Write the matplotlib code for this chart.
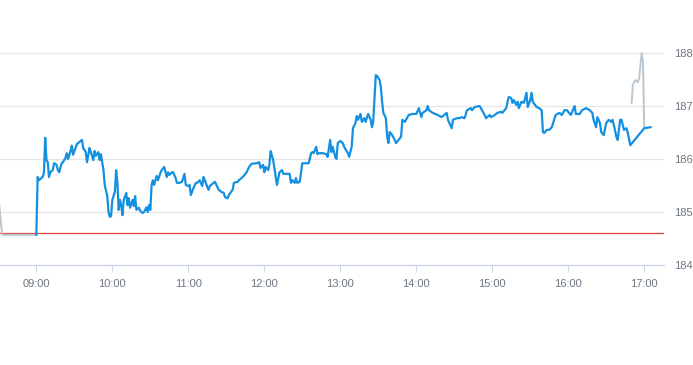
import matplotlib
matplotlib.use("Agg")
from matplotlib import pyplot as plt

# intraday prices (regular session)
times = [
    "09:00", "09:01", "09:02", "09:04", "09:05", "09:06", "09:07", "09:08", "09:09", "09:10",
    "09:11", "09:13", "09:14", "09:16", "09:17", "09:18", "09:20", "09:21", "09:23", "09:24",
    "09:25", "09:27", "09:28", "09:29", "09:31", "09:32", "09:34", "09:36", "09:37", "09:39",
    "09:40", "09:42", "09:43", "09:45", "09:46", "09:47", "09:49", "09:50", "09:51", "09:53",
    "09:54", "09:56", "09:57", "09:58", "09:59", "10:00", "10:02", "10:03", "10:04", "10:05",
    "10:06", "10:07", "10:08", "10:09", "10:11", "10:12", "10:13", "10:14", "10:16", "10:17",
    "10:18", "10:19", "10:21", "10:22", "10:24", "10:25", "10:27", "10:28", "10:29", "10:30",
    "10:31", "10:32", "10:33", "10:35", "10:36", "10:38", "10:39", "10:41", "10:43", "10:44",
    "10:45", "10:47", "10:48", "10:50", "10:51", "10:53", "10:55", "10:57", "10:58", "11:00",
    "11:01", "11:02", "11:04", "11:06", "11:07", "11:09", "11:11", "11:12", "11:13", "11:15",
    "11:16", "11:17", "11:19", "11:21", "11:23", "11:24", "11:26", "11:28", "11:29", "11:31",
    "11:32", "11:35", "11:36", "11:39", "11:40", "11:43", "11:46", "11:48", "11:50", "11:54",
    "11:56", "11:57", "11:59", "12:00", "12:01", "12:03", "12:04", "12:05", "12:07", "12:09",
    "12:10", "12:12", "12:14", "12:15", "12:17", "12:20", "12:21", "12:22", "12:24", "12:25",
    "12:26", "12:28", "12:30", "12:34", "12:35", "12:37", "12:38", "12:39", "12:41", "12:42",
    "12:43", "12:46", "12:49", "12:50", "12:52", "12:53", "12:54", "12:56", "12:57", "12:58",
    "13:00", "13:02", "13:03", "13:06", "13:07", "13:09", "13:10", "13:12", "13:13", "13:14",
    "13:16", "13:17", "13:19", "13:20", "13:22", "13:24", "13:25", "13:26", "13:28", "13:29",
    "13:31", "13:32", "13:33", "13:34", "13:36", "13:37", "13:38", "13:39", "13:41", "13:43",
    "13:44", "13:46", "13:48", "13:49", "13:51", "13:54", "13:57", "14:00", "14:02", "14:04",
    "14:05", "14:08", "14:09", "14:10", "14:13", "14:17", "14:20", "14:24", "14:25", "14:28",
    "14:29", "14:32", "14:34", "14:36", "14:38", "14:39", "14:40", "14:43", "14:44", "14:46",
    "14:50", "14:51", "14:54", "14:55", "14:58", "14:59", "15:02", "15:04", "15:07", "15:08",
    "15:11", "15:13", "15:15", "15:16", "15:17", "15:19", "15:20", "15:21", "15:23", "15:25",
    "15:27", "15:28", "15:30", "15:31", "15:32", "15:35", "15:37", "15:39", "15:40", "15:41",
    "15:43", "15:45", "15:47", "15:50", "15:53", "15:55", "15:57", "15:59", "16:02", "16:05",
    "16:06", "16:09", "16:11", "16:14", "16:17", "16:19", "16:20", "16:22", "16:23", "16:25",
    "16:26", "16:28", "16:30", "16:32", "16:34", "16:35", "16:36", "16:38", "16:39", "16:41",
    "16:42", "16:44", "16:46", "16:47", "16:49", "17:00", "17:05",
]
prices = [
    184.57, 185.66, 185.60, 185.64, 185.66, 185.74, 186.40, 185.98, 185.94, 185.66,
    185.75, 185.79, 185.92, 185.89, 185.79, 185.75, 185.92, 185.94, 186.02, 186.11,
    186.00, 186.15, 186.25, 186.08, 186.21, 186.28, 186.32, 186.36, 186.21, 186.13,
    185.94, 186.21, 186.13, 185.98, 186.15, 186.06, 186.13, 185.98, 186.09, 185.79,
    185.51, 185.30, 185.00, 184.91, 184.92, 185.23, 185.38, 185.79, 185.55, 185.04,
    185.23, 185.13, 184.94, 185.23, 185.36, 185.13, 185.26, 185.08, 185.23, 185.11,
    185.30, 185.04, 185.08, 185.02, 184.98, 185.00, 185.09, 185.00, 185.13, 185.04,
    185.51, 185.60, 185.51, 185.68, 185.60, 185.74, 185.79, 185.85, 185.66, 185.75,
    185.70, 185.75, 185.75, 185.64, 185.55, 185.55, 185.57, 185.72, 185.51, 185.49,
    185.51, 185.32, 185.45, 185.55, 185.55, 185.60, 185.49, 185.66, 185.60, 185.47,
    185.42, 185.49, 185.53, 185.57, 185.47, 185.42, 185.38, 185.36, 185.28, 185.26,
    185.32, 185.42, 185.55, 185.57, 185.60, 185.66, 185.75, 185.85, 185.91, 185.92,
    185.94, 185.83, 185.89, 185.75, 185.85, 185.79, 185.89, 186.15, 185.98, 185.66,
    185.51, 185.75, 185.79, 185.72, 185.72, 185.72, 185.55, 185.60, 185.55, 185.64,
    185.55, 185.57, 185.92, 185.92, 185.92, 186.11, 186.13, 186.11, 186.23, 186.09,
    186.11, 186.11, 186.09, 186.04, 186.36, 186.13, 186.23, 186.04, 186.00, 186.30,
    186.34, 186.30, 186.23, 186.11, 186.04, 186.23, 186.58, 186.68, 186.81, 186.74,
    186.85, 186.70, 186.77, 186.70, 186.85, 186.74, 186.60, 186.70, 187.58, 187.57,
    187.49, 187.36, 187.08, 186.87, 186.77, 186.42, 186.30, 186.51, 186.45, 186.36,
    186.30, 186.36, 186.42, 186.74, 186.70, 186.83, 186.85, 186.85, 186.96, 186.79,
    186.87, 186.92, 187.00, 186.92, 186.87, 186.83, 186.79, 186.87, 186.74, 186.58,
    186.74, 186.77, 186.77, 186.79, 186.77, 186.83, 186.92, 186.96, 186.92, 186.98,
    187.00, 186.96, 186.83, 186.77, 186.83, 186.79, 186.83, 186.87, 186.89, 186.87,
    186.96, 187.17, 187.15, 187.06, 187.11, 187.02, 187.08, 186.96, 187.08, 187.06,
    187.25, 186.98, 187.11, 187.25, 187.08, 186.98, 186.96, 186.92, 186.51, 186.49,
    186.55, 186.55, 186.60, 186.83, 186.87, 186.83, 186.92, 186.92, 186.83, 187.00,
    186.85, 186.85, 186.92, 186.96, 186.92, 186.87, 186.74, 186.60, 186.79, 186.68,
    186.51, 186.45, 186.68, 186.74, 186.70, 186.74, 186.64, 186.42, 186.36, 186.74,
    186.74, 186.55, 186.58, 186.49, 186.26, 186.58, 186.60,
]

# extended hours (grey)
pre_times = ["08:30", "08:33", "09:00"]
pre_prices = [185.30, 184.57, 184.57]
post_times = ["16:50", "16:51", "16:53", "16:55", "16:56", "16:58", "16:59", "17:00"]
post_prices = [187.06, 187.40, 187.49, 187.45, 187.53, 188.00, 187.83, 186.60]

prev_close = 184.61

y_ticks = [184, 185, 186, 187, 188]
x_labels = ["09:00", "10:00", "11:00", "12:00", "13:00", "14:00", "15:00", "16:00", "17:00"]


def to_hours(t):
    h, m = t.split(":")
    return int(h) + int(m) / 60.0


fig = plt.figure(figsize=(6.93, 3.65), dpi=100)
ax = fig.add_axes([0, 1 - 265 / 365, 664 / 693, 265 / 365])

ax.plot([to_hours(t) for t in pre_times], pre_prices, color="#bcc6d0", lw=1.4, zorder=2)
ax.plot([to_hours(t) for t in post_times], post_prices, color="#bcc6d0", lw=1.4, zorder=2)
ax.plot([to_hours(t) for t in times], prices, color="#1490e0", lw=1.6, zorder=3)
ax.axhline(prev_close, color="#e0403a", lw=0.9, zorder=1)

ax.set_xlim(to_hours("08:31") + 0.3 / 60, to_hours("17:15") + 0.6 / 60)
ax.set_ylim(184, 189)

ax.set_yticks(y_ticks)
ax.yaxis.tick_right()
ax.set_xticks([to_hours(t) for t in x_labels])
ax.set_xticklabels(x_labels)

ax.grid(axis="y", color="#e6e6e6", lw=0.9)
ax.set_axisbelow(True)
for s in ["top", "left", "right"]:
    ax.spines[s].set_visible(False)
ax.spines["bottom"].set_color("#ccd6eb")
ax.spines["bottom"].set_linewidth(0.9)

ax.tick_params(axis="x", length=5, width=0.8, color="#ccd6eb", pad=5,
               labelsize=8, labelcolor="#6e7783")
ax.tick_params(axis="y", length=0, pad=7, labelsize=8, labelcolor="#6e7783")
for lab in ax.get_xticklabels() + ax.get_yticklabels():
    lab.set_fontfamily("Liberation Sans")

fig.savefig("out.png", dpi=100)
